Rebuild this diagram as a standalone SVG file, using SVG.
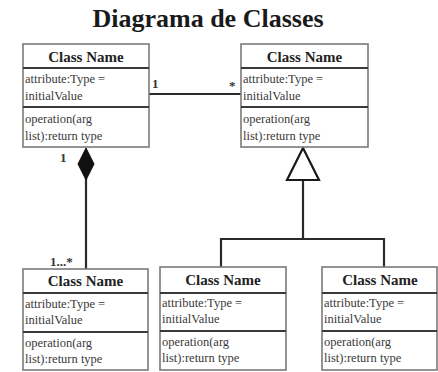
<svg xmlns="http://www.w3.org/2000/svg" width="438" height="372" viewBox="0 0 438 372">
  <style>
    .title { font-family: "Liberation Serif", "DejaVu Serif", serif; font-weight: bold; font-size: 26px; fill: #1a1a1a; }
    .box { fill: #ffffff; stroke: #7a7a7a; stroke-width: 1.6; }
    .sep { stroke: #3a3a3a; stroke-width: 2.2; }
    .cname { font-family: "Liberation Serif", "DejaVu Serif", serif; font-weight: bold; font-size: 15px; fill: #222; text-anchor: middle; }
    .member { font-family: "Liberation Serif", "DejaVu Serif", serif; font-size: 12.5px; fill: #3a3a3a; }
    .conn { stroke: #2a2a2a; stroke-width: 2.2; fill: none; }
    .mult { font-family: "Liberation Serif", "DejaVu Serif", serif; font-weight: bold; font-size: 13px; fill: #333; }
  </style>

  <text class="title" x="208" y="27" text-anchor="middle">Diagrama de Classes</text>

  <!-- connectors -->
  <g id="connectors">
    <!-- association between the two upper classes -->
    <line class="conn" x1="149" y1="94" x2="241" y2="94" stroke="#555"/>
    <text class="mult" x="152" y="88">1</text>
    <text class="mult" x="229" y="90">*</text>

    <!-- composition: upper-left owns lower-left -->
    <line class="conn" x1="86" y1="178" x2="86" y2="269"/>
    <polygon points="86,148 94,164 86,180 78,164" fill="#111" stroke="#111" stroke-width="1"/>
    <text class="mult" x="60" y="162">1</text>
    <text class="mult" x="50" y="266" font-weight="normal">1...*</text>

    <!-- generalization tree into upper-right -->
    <polyline class="conn" points="221,267 221,239 384,239 384,267"/>
    <line class="conn" x1="303" y1="180" x2="303" y2="239"/>
    <polygon points="303,148 319,180 287,180" fill="#ffffff" stroke="#1a1a1a" stroke-width="2.2" stroke-linejoin="miter"/>
  </g>

  <!-- upper-left class -->
  <g id="class-top-left">
    <rect class="box" x="23" y="44" width="126" height="103"/>
    <line class="sep" x1="23" y1="68" x2="149" y2="68"/>
    <line class="sep" x1="23" y1="107" x2="149" y2="107"/>
    <text class="cname" x="86" y="62">Class Name</text>
    <text class="member" x="25" y="83">attribute:Type =</text>
    <text class="member" x="25" y="100">initialValue</text>
    <text class="member" x="25" y="123">operation(arg</text>
    <text class="member" x="25" y="140">list):return type</text>
  </g>

  <!-- upper-right class -->
  <g id="class-top-right">
    <rect class="box" x="241" y="44" width="127" height="103"/>
    <line class="sep" x1="241" y1="68" x2="368" y2="68"/>
    <line class="sep" x1="241" y1="107" x2="368" y2="107"/>
    <text class="cname" x="304.5" y="62">Class Name</text>
    <text class="member" x="243" y="83">attribute:Type =</text>
    <text class="member" x="243" y="100">initialValue</text>
    <text class="member" x="243" y="123">operation(arg</text>
    <text class="member" x="243" y="140">list):return type</text>
  </g>

  <!-- lower-left class -->
  <g id="class-bottom-left">
    <rect class="box" x="23" y="269" width="125" height="101"/>
    <line class="sep" x1="23" y1="293" x2="148" y2="293"/>
    <line class="sep" x1="23" y1="332" x2="148" y2="332"/>
    <text class="cname" x="85.5" y="286">Class Name</text>
    <text class="member" x="25" y="308">attribute:Type =</text>
    <text class="member" x="25" y="324">initialValue</text>
    <text class="member" x="25" y="347">operation(arg</text>
    <text class="member" x="25" y="363">list):return type</text>
  </g>

  <!-- lower-middle class -->
  <g id="class-bottom-middle">
    <rect class="box" x="160" y="267" width="126" height="103"/>
    <line class="sep" x1="160" y1="293" x2="286" y2="293"/>
    <line class="sep" x1="160" y1="331" x2="286" y2="331"/>
    <text class="cname" x="223" y="285">Class Name</text>
    <text class="member" x="162" y="307">attribute:Type =</text>
    <text class="member" x="162" y="323">initialValue</text>
    <text class="member" x="162" y="346">operation(arg</text>
    <text class="member" x="162" y="362">list):return type</text>
  </g>

  <!-- lower-right class -->
  <g id="class-bottom-right">
    <rect class="box" x="322" y="267" width="115" height="103"/>
    <line class="sep" x1="322" y1="293" x2="437" y2="293"/>
    <line class="sep" x1="322" y1="331" x2="437" y2="331"/>
    <text class="cname" x="380" y="285">Class Name</text>
    <text class="member" x="324" y="307">attribute:Type =</text>
    <text class="member" x="324" y="323">initialValue</text>
    <text class="member" x="324" y="346">operation(arg</text>
    <text class="member" x="324" y="362">list):return type</text>
  </g>
</svg>
